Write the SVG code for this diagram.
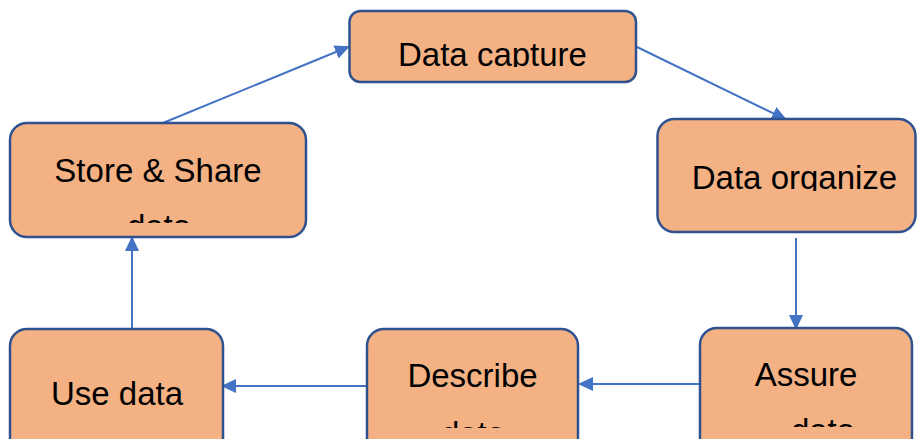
<svg xmlns="http://www.w3.org/2000/svg" width="917" height="439" viewBox="0 0 917 439">
  <style>
    .box { fill: #F4B183; stroke: #2F528F; stroke-width: 2.5; }
    .lbl { font-family: "Liberation Sans", Arial, sans-serif; font-size: 33px; fill: #000; text-anchor: middle; }
    .edge { stroke: #4472C4; stroke-width: 2; fill: none; marker-end: url(#arrow); }
  </style>
  <defs>
    <marker id="arrow" viewBox="0 0 15 14" refX="13" refY="7" markerWidth="15" markerHeight="14" markerUnits="userSpaceOnUse" orient="auto">
      <path d="M0,0 L15,7 L0,14 Z" fill="#4472C4"/>
    </marker>
    <!-- text areas inside each box; labels overflowing these are cut off -->
    <clipPath id="clip-capture"><rect x="349" y="11" width="287" height="56"/></clipPath>
    <clipPath id="clip-store"><rect x="10" y="123" width="296" height="100"/></clipPath>
    <clipPath id="clip-organize"><rect x="657" y="119" width="259" height="72"/></clipPath>
    <clipPath id="clip-describe"><rect x="367" y="329" width="211" height="99"/></clipPath>
    <clipPath id="clip-assure"><rect x="700" y="328" width="212" height="99"/></clipPath>
  </defs>

  <g id="connectors">
    <line class="edge" x1="158" y1="125" x2="348" y2="47"/>
    <line class="edge" x1="637" y1="47" x2="785" y2="119"/>
    <line class="edge" x1="796" y1="238" x2="796" y2="328"/>
    <line class="edge" x1="700" y1="384" x2="580" y2="384"/>
    <line class="edge" x1="366" y1="386" x2="223" y2="386"/>
    <line class="edge" x1="132" y1="329" x2="132" y2="238"/>
  </g>

  <g id="data-capture">
    <rect class="box" x="349.5" y="11" width="286.5" height="71" rx="11"/>
    <g clip-path="url(#clip-capture)">
      <text class="lbl" x="492.5" y="66">Data capture</text>
    </g>
  </g>

  <g id="data-organize">
    <rect class="box" x="657.5" y="119" width="258" height="113" rx="17"/>
    <g clip-path="url(#clip-organize)">
      <text class="lbl" x="794.5" y="189">Data organize</text>
    </g>
  </g>

  <g id="assure-data">
    <rect class="box" x="700" y="328" width="212" height="130" rx="17"/>
    <g clip-path="url(#clip-assure)">
      <text class="lbl" x="806" y="386">Assure</text>
      <text class="lbl" x="823" y="442">data</text>
    </g>
  </g>

  <g id="describe-data">
    <rect class="box" x="367" y="329" width="211" height="130" rx="17"/>
    <g clip-path="url(#clip-describe)">
      <text class="lbl" x="472.5" y="387">Describe</text>
      <text class="lbl" x="473" y="445">data</text>
    </g>
  </g>

  <g id="use-data">
    <rect class="box" x="10" y="329" width="213" height="130" rx="17"/>
    <text class="lbl" x="117" y="405">Use data</text>
  </g>

  <g id="store-share-data">
    <rect class="box" x="10" y="123" width="296" height="114" rx="17"/>
    <g clip-path="url(#clip-store)">
      <text class="lbl" x="158" y="182">Store &amp; Share</text>
      <text class="lbl" x="159" y="238">data</text>
    </g>
  </g>
</svg>
